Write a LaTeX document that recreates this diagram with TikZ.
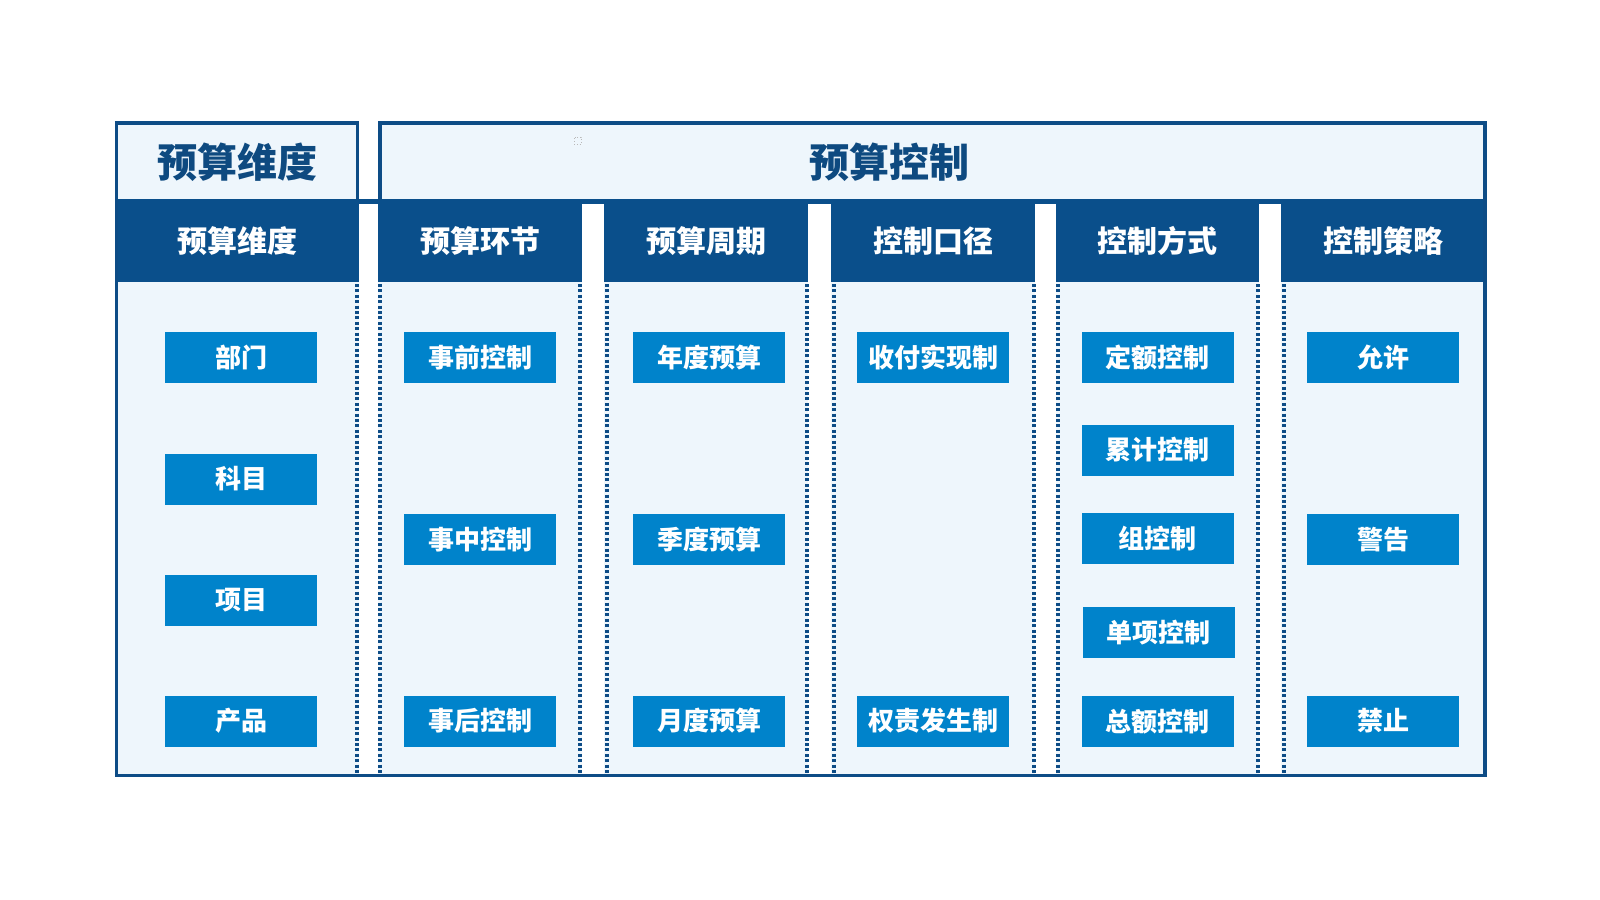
\documentclass[tikz,border=0pt]{standalone}
\usepackage{fontspec}
\setmainfont{Noto Sans CJK SC}
\definecolor{headdark}{HTML}{0A4F8B}
\definecolor{borderdark}{HTML}{0D4C86}
\definecolor{itemblue}{HTML}{0083CB}
\definecolor{bodyfill}{HTML}{EEF6FC}
\definecolor{titleblue}{HTML}{0E4A80}
\tikzset{
  colhead/.style={text=white, font=\fontsize{30}{36}\selectfont\bfseries, inner sep=0pt},
  itembox/.style={fill=itemblue, text=white, minimum width=152pt, minimum height=51pt, inner sep=0pt, font=\fontsize{26}{31}\selectfont\bfseries},
  titletext/.style={text=titleblue, font=\fontsize{40}{48}\selectfont\bfseries, inner sep=0pt},
  dotline/.style={draw=borderdark, line width=3.4pt, dash pattern=on 3pt off 2.4pt},
  outline/.style={draw=borderdark, line width=3.5pt},
}
\begin{document}
\begin{tikzpicture}[x=1pt,y=-1pt]
\useasboundingbox (0,0) rectangle (1600,899);
\fill[white] (0,0) rectangle (1600,899);
% light fills
\fill[bodyfill] (116,123) rectangle (358,199);
\fill[bodyfill] (380,123) rectangle (1485,199);
\foreach \l/\r in {116/359,378/582,604/808,831/1035,1056/1259,1281/1485}
  \fill[bodyfill] (\l,282) rectangle (\r,775);
% header band
\fill[headdark] (116,199) rectangle (1485,282);
% white gaps between columns
\foreach \l/\r in {359/378,582/604,808/831,1035/1056,1259/1281}
  \fill[white] (\l,204) rectangle (\r,775);
% dotted column edges
\foreach \x in {357,380,580,607,807,834,1034,1058,1258,1284}
  \draw[dotline] (\x,284) -- (\x,774);
% outer borders
\draw[outline] (116.5,121) -- (116.5,777);
\draw[outline] (1485,121) -- (1485,777);
\draw[outline] (114.75,775.5) -- (1486.75,775.5);
\draw[outline] (114.75,123) -- (359.25,123);
\draw[outline] (357.5,121.25) -- (357.5,200);
\draw[outline] (378.25,123) -- (1486.75,123);
\draw[outline] (380,121.25) -- (380,200);
% small dotted mark
\node[draw=gray!55, dotted, line width=0.8pt, minimum size=7pt, inner sep=0pt] (mark) at (577.5,140.5) {};
% titles
\node[titletext] (t1) at (237,162) {预算维度};
\node[titletext] (t2) at (889,162) {预算控制};
% column headers
\node[colhead] (h1) at (237.5,241) {预算维度};
\node[colhead] (h2) at (480,241) {预算环节};
\node[colhead] (h3) at (706,241) {预算周期};
\node[colhead] (h4) at (933,241) {控制口径};
\node[colhead] (h5) at (1157.5,241) {控制方式};
\node[colhead] (h6) at (1383,241) {控制策略};
% column 1
\node[itembox] (c1a) at (241,357.5) {部门};
\node[itembox] (c1b) at (241,479) {科目};
\node[itembox] (c1c) at (241,600) {项目};
\node[itembox] (c1d) at (241,721) {产品};
% column 2
\node[itembox] (c2a) at (480,357.5) {事前控制};
\node[itembox] (c2b) at (480,539.5) {事中控制};
\node[itembox] (c2c) at (480,721) {事后控制};
% column 3
\node[itembox] (c3a) at (709,357.5) {年度预算};
\node[itembox] (c3b) at (709,539.5) {季度预算};
\node[itembox] (c3c) at (709,721) {月度预算};
% column 4
\node[itembox] (c4a) at (933,357.5) {收付实现制};
\node[itembox] (c4b) at (933,721) {权责发生制};
% column 5
\node[itembox] (c5a) at (1157.5,357.5) {定额控制};
\node[itembox] (c5b) at (1157.5,450) {累计控制};
\node[itembox] (c5c) at (1157.5,538.5) {组控制};
\node[itembox] (c5d) at (1158.5,632.5) {单项控制};
\node[itembox] (c5e) at (1157.5,721.5) {总额控制};
% column 6
\node[itembox] (c6a) at (1383,357.5) {允许};
\node[itembox] (c6b) at (1383,539.5) {警告};
\node[itembox] (c6c) at (1383,721) {禁止};
\end{tikzpicture}
\end{document}
